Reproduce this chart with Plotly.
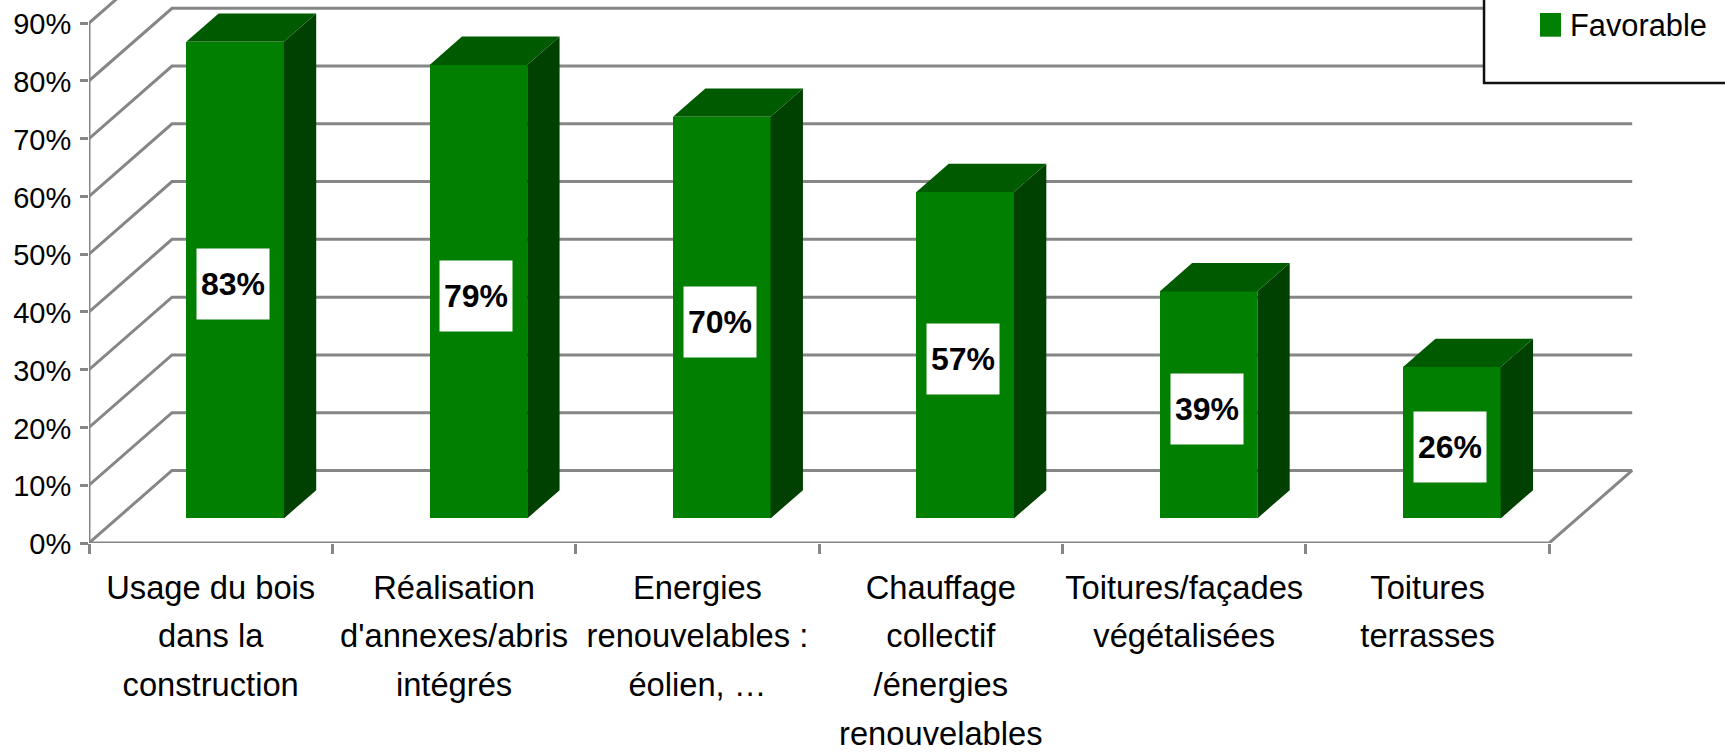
import plotly.graph_objects as go

CATEGORIES = ["Usage du bois<br>dans la<br>construction", "Réalisation<br>d'annexes/abris<br>intégrés",
              "Energies<br>renouvelables :<br>éolien, …", "Chauffage<br>collectif<br>/énergies<br>renouvelables",
              "Toitures/façades<br>végétalisées", "Toitures<br>terrasses"]
VALEURS = [82.51, 78.51, 69.51, 56.51, 39.3, 26.2]
TICKS_Y = [0, 10, 20, 30, 40, 50, 60, 70, 80, 90]
SERIE = "Favorable"

FONT = "Liberation Sans, Arial, sans-serif"
GRIS = "#868686"
VERT, VERT_HAUT, VERT_COTE = "#007f00", "#005a00", "#004000"

W, H = 1725, 752
LEFT, BOTTOM = 88.8, 543.3
PX_X, PX_Y = 243.4, 5.78  # pixels par categorie / par %
XMAX = (W - LEFT) / PX_X
YMAX = BOTTOM / PX_Y

# fausse 3D : decalage du mur du fond et des barres
FOND_X, FOND_Y = 83 / PX_X, 72.6 / PX_Y
BARRE_DX, BARRE_DY = 32.4 / PX_X, 28.3 / PX_Y
BARRE_BASE = 24.6 / PX_Y
BARRE_W = 97.6 / PX_X
BARRE_DECAL = 0.6

n = len(CATEGORIES)
centres = [i + BARRE_DECAL for i in range(n)]


def px_x(p):
    return (p - LEFT) / (W - LEFT)


def px_y(p):
    return (BOTTOM - p) / BOTTOM


def label_x(txt):
    # interligne du parent (37.5px), glyphes plus petits comme dans l'image d'origine
    return "<br>".join(f'<span style="font-size:32.7px">{l}</span>' for l in txt.split("<br>"))


fig = go.Figure()

# mur, sol et axe gauche
for t in TICKS_Y:
    fig.add_trace(go.Scatter(x=[0, FOND_X, n + FOND_X], y=[t, t + FOND_Y, t + FOND_Y], mode="lines",
                             line=dict(color=GRIS, width=3), showlegend=False, hoverinfo="skip"))
fig.add_trace(go.Scatter(x=[0, 0], y=[0, TICKS_Y[-1]], mode="lines", line=dict(color=GRIS, width=3),
                         showlegend=False, hoverinfo="skip"))
fig.add_trace(go.Scatter(x=[0, n, n + FOND_X], y=[0, 0, FOND_Y], mode="lines", line=dict(color=GRIS, width=3),
                         showlegend=False, hoverinfo="skip"))

# barres
fig.add_trace(go.Bar(x=centres, y=VALEURS, base=BARRE_BASE, width=BARRE_W, name=SERIE, xaxis="x2", yaxis="y2",
                     marker=dict(color=VERT, line=dict(width=0)), hoverinfo="skip"))
for c, v in zip(centres, VALEURS):
    g, d = c - BARRE_W / 2, c + BARRE_W / 2
    b, h = BARRE_BASE, BARRE_BASE + v
    fig.add_trace(go.Scatter(x=[d, d + BARRE_DX, d + BARRE_DX, d, d], y=[b, b + BARRE_DY, h + BARRE_DY, h, b],
                             mode="lines", fill="toself", fillcolor=VERT_COTE, line=dict(width=0),
                             xaxis="x2", yaxis="y2", showlegend=False, hoverinfo="skip"))
    fig.add_trace(go.Scatter(x=[g, d, d + BARRE_DX, g + BARRE_DX, g], y=[h, h, h + BARRE_DY, h + BARRE_DY, h],
                             mode="lines", fill="toself", fillcolor=VERT_HAUT, line=dict(width=0),
                             xaxis="x2", yaxis="y2", showlegend=False, hoverinfo="skip"))
    fig.add_annotation(x=c, y=BARRE_BASE + v / 2, text=f"<b>{round(v)}%</b>", showarrow=False, width=72, height=70,
                       borderpad=0, bgcolor="white", xshift=-2, yshift=-4,
                       font=dict(family=FONT, size=32, color="black"))

# cadre de la legende, coupe par le bord de l'image
fig.add_shape(type="rect", xref="paper", yref="paper", x0=px_x(1484), x1=px_x(W + 20), y0=px_y(83), y1=px_y(-20),
              fillcolor="white", line=dict(color="#111111", width=2.5), layer="above")
fig.add_shape(type="rect", xref="paper", yref="paper", x0=px_x(1540), x1=px_x(1561), y0=px_y(36.7), y1=px_y(13),
              fillcolor="#008000", line=dict(width=0), layer="above")

fig.update_layout(
    width=W, height=H, autosize=False, paper_bgcolor="white", plot_bgcolor="white",
    margin=dict(l=LEFT, r=0, t=0, b=H - BOTTOM, pad=0, autoexpand=False),
    font=dict(family=FONT, color="black"), bargap=0,
    showlegend=True,
    legend=dict(x=px_x(1530), y=px_y(24), xanchor="left", yanchor="middle", bgcolor="rgba(0,0,0,0)", borderwidth=0,
                font=dict(family=FONT, size=30.8, color="black")),
    xaxis=dict(range=[0, XMAX], tickvals=[i + 0.5 for i in range(n)], ticktext=[label_x(c) for c in CATEGORIES],
               ticks="", showgrid=False, zeroline=False, showline=False, tickangle=0,
               tickfont=dict(family=FONT, size=37.5, color="black"), ticklabelstandoff=17,
               minor=dict(tickvals=list(range(n + 1)), ticks="outside", ticklen=10, tickwidth=3, tickcolor=GRIS,
                          showgrid=False)),
    yaxis=dict(range=[0, YMAX], tickvals=TICKS_Y, ticktext=[f"{t}%" for t in TICKS_Y], ticks="outside", ticklen=8,
               tickwidth=3, tickcolor=GRIS, showgrid=False, zeroline=False, showline=False,
               tickfont=dict(family=FONT, size=29, color="black"), ticklabelstandoff=3, ticklabelshift=1),
    xaxis2=dict(range=[0, XMAX], overlaying="x", visible=False),
    yaxis2=dict(range=[0, YMAX], overlaying="y", visible=False),
)

fig.write_html("out.html", config=dict(displayModeBar=False), post_script="document.body.style.margin='0';")
